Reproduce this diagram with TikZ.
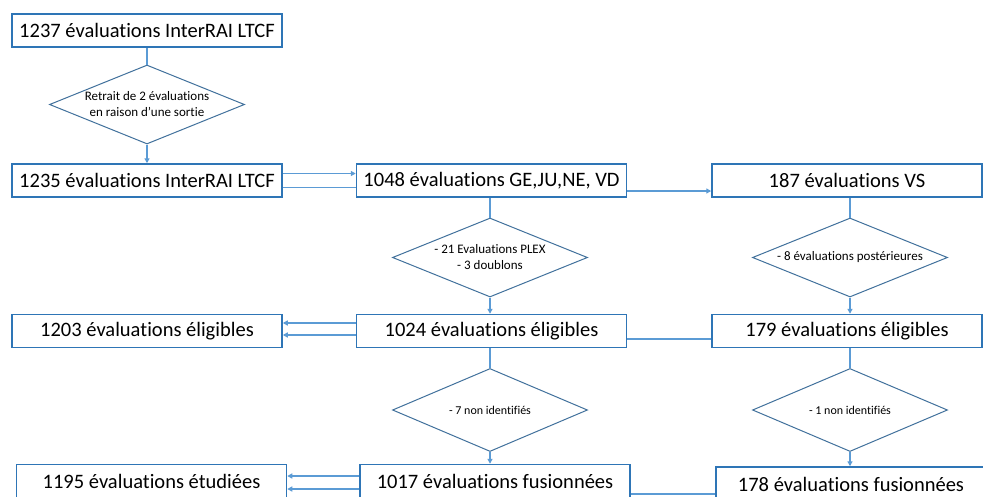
\documentclass[tikz,border=0pt]{standalone}
\usepackage{fontspec}
\setmainfont{Carlito}[Ligatures=NoCommon]
\usetikzlibrary{shapes.geometric,arrows.meta}
\definecolor{boxblue}{RGB}{46,117,182}
\definecolor{linkblue}{RGB}{91,155,213}
\definecolor{decisionblue}{RGB}{65,113,156}

\begin{document}
\begin{tikzpicture}[x=1pt,y=-1pt,
  countbox/.style={draw=boxblue,line width=1.5pt,minimum width=270pt,minimum height=33pt,inner sep=0pt,font=\fontsize{20.5}{24}\selectfont},
  filterbox/.style={draw=decisionblue,line width=1pt,shape=diamond,inner sep=0pt,minimum width=195pt,minimum height=79pt},
  filtertext/.style={align=center,inner sep=0pt,font=\fontsize{13}{16}\selectfont},
  link/.style={draw=linkblue,line width=1.3pt},
  flow/.style={link,-{Triangle[length=5pt,width=5pt]}}]
  \useasboundingbox (0,0) rectangle (983,496);
  \fill[white] (0,0) rectangle (983,496);
  \clip (0,0) rectangle (983,496);

  \node[countbox] (b1237) at (147,30.5) {1237 évaluations InterRAI LTCF};
  \node[filterbox] (f1) at (147,104.5) {};
  \node[filtertext] (t1) at (f1) {Retrait de 2 évaluations\\en raison d’une sortie};

  \node[countbox] (b1235) at (147,180.5) {1235 évaluations InterRAI LTCF};
  \node[countbox] (b1048) at (491.5,180.5) {1048 évaluations GE,JU,NE, VD};
  \node[countbox] (b187) at (847,180.5) {187 évaluations VS};

  \node[filterbox] (f2) at (490,257.5) {};
  \node[filtertext] (t2) at (f2) {- 21 Evaluations PLEX\\- 3 doublons};
  \node[filterbox] (f3) at (850,257.5) {};
  \node[filtertext] (t3) at (f3) {- 8 évaluations postérieures};

  \node[countbox] (b1203) at (147,331) {1203 évaluations éligibles};
  \node[countbox] (b1024) at (491.5,331) {1024 évaluations éligibles};
  \node[countbox] (b179) at (847,331) {179 évaluations éligibles};

  \node[filterbox,minimum height=83pt] (f4) at (490,410) {};
  \node[filtertext,font=\fontsize{12}{15}\selectfont] (t4) at (f4) {- 7 non identifiés};
  \node[filterbox,minimum height=83pt] (f5) at (850,410) {};
  \node[filtertext,font=\fontsize{12}{15}\selectfont] (t5) at (f5) {- 1 non identifiés};

  \node[countbox,minimum height=34pt] (b1195) at (151.5,481.5) {1195 évaluations étudiées};
  \node[countbox,minimum height=34pt] (b1017) at (495,481.5) {1017 évaluations fusionnées};
  \node[countbox,minimum height=34pt] (b178) at (851,484) {178 évaluations fusionnées};

  \draw[link] (b1237.south) -- (f1.north);
  \draw[flow] (f1.south) -- (b1235.north);

  \draw[flow] ([yshift=7pt]b1235.east) -- ([yshift=7pt]b1048.west);
  \draw[link] ([yshift=-7pt]b1048.west) -- ([yshift=-7pt]b1235.east);
  \draw[flow] ([yshift=-10.5pt]b1048.east) -- ([yshift=-10.5pt]b187.west);

  \draw[link] (b1048.south -| f2.north) -- (f2.north);
  \draw[flow] (f2.south) -- (f2.south |- b1024.north);
  \draw[link] (b187.south -| f3.north) -- (f3.north);
  \draw[flow] (f3.south) -- (f3.south |- b179.north);

  \draw[flow] ([yshift=8pt]b1024.west) -- ([yshift=8pt]b1203.east);
  \draw[flow] ([yshift=-4pt]b1024.west) -- ([yshift=-4pt]b1203.east);
  \draw[link] ([yshift=-8pt]b1024.east) -- ([yshift=-8pt]b179.west);

  \draw[link] (b1024.south -| f4.north) -- (f4.north);
  \draw[flow] (f4.south) -- (f4.south |- b1017.north);
  \draw[link] (b179.south -| f5.north) -- (f5.north);
  \draw[flow] (f5.south) -- (f5.south |- b178.north);

  \draw[flow] ([yshift=5.5pt]b1017.west) -- ([yshift=5.5pt]b1195.east);
  \draw[flow] ([yshift=-7.5pt]b1017.west) -- ([yshift=-7.5pt]b1195.east);
  \draw[link] ([yshift=-12.5pt]b1017.east) -- ([yshift=-12.5pt]b1017.east -| b178.west);
\end{tikzpicture}
\end{document}
